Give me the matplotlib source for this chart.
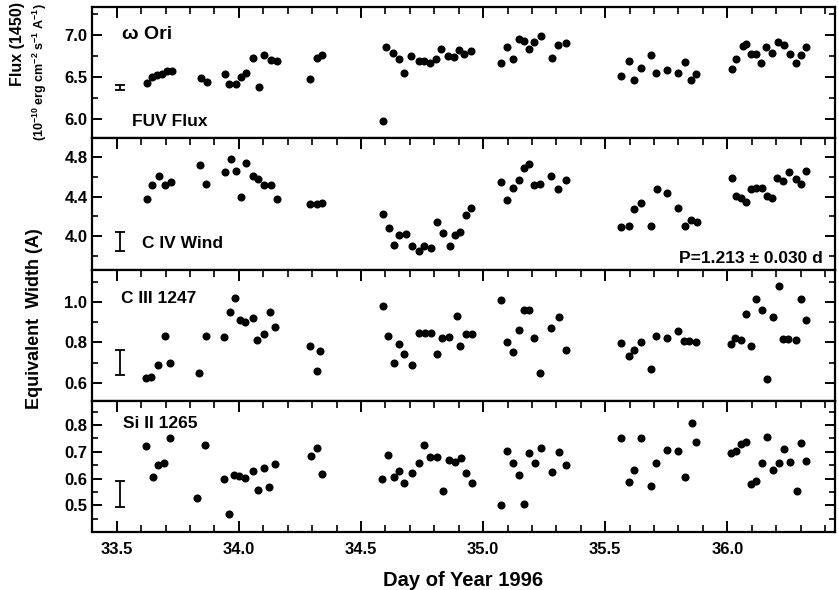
import numpy as np
import matplotlib
matplotlib.use('Agg')
import matplotlib.pyplot as plt
from matplotlib.ticker import MultipleLocator, FixedLocator

plt.rcParams['font.family'] = ['Liberation Sans', 'DejaVu Sans']
plt.rcParams['font.weight'] = 'bold'
plt.rcParams['mathtext.fontset'] = 'custom'
plt.rcParams['mathtext.rm'] = 'Liberation Sans:bold'
plt.rcParams['mathtext.it'] = 'Liberation Sans:bold'
plt.rcParams['mathtext.bf'] = 'Liberation Sans:bold'
plt.rcParams['mathtext.default'] = 'regular'

# --- data ---
days_fuv = [33.623, 33.643, 33.664, 33.684, 33.705, 33.728,
            33.844, 33.869, 33.944, 33.960, 33.988, 34.008, 34.030, 34.059, 34.083, 34.104, 34.131, 34.156,
            34.292, 34.322, 34.339,
            34.590, 34.604, 34.630, 34.657, 34.677, 34.705, 34.739, 34.759, 34.784, 34.807, 34.828, 34.855,
            34.882, 34.902, 34.923, 34.950,
            35.074, 35.097, 35.122, 35.146, 35.169, 35.190, 35.210, 35.238, 35.283, 35.306, 35.340,
            35.566, 35.597, 35.618, 35.645, 35.686, 35.709, 35.754, 35.800, 35.825, 35.852, 35.873,
            36.019, 36.037, 36.064, 36.078, 36.098, 36.119, 36.139, 36.160, 36.184, 36.208, 36.232, 36.255,
            36.283, 36.303, 36.324]
flux = [6.43, 6.50, 6.52, 6.54, 6.57, 6.57,
        6.49, 6.44, 6.54, 6.42, 6.42, 6.50, 6.55, 6.72, 6.38, 6.76, 6.70, 6.69,
        6.48, 6.73, 6.76,
        5.98, 6.85, 6.79, 6.71, 6.55, 6.75, 6.69, 6.69, 6.67, 6.71, 6.83, 6.75, 6.74, 6.82, 6.77, 6.81,
        6.67, 6.85, 6.71, 6.95, 6.93, 6.83, 6.92, 6.99, 6.73, 6.88, 6.90,
        6.51, 6.69, 6.46, 6.61, 6.76, 6.55, 6.58, 6.55, 6.68, 6.46, 6.54,
        6.60, 6.71, 6.87, 6.89, 6.77, 6.77, 6.67, 6.85, 6.79, 6.91, 6.88, 6.77, 6.67, 6.76, 6.85]

days_civ = [33.623, 33.646, 33.673, 33.697, 33.721,
            33.841, 33.867, 33.944, 33.967, 33.988, 34.008, 34.029, 34.056, 34.077, 34.102, 34.131, 34.156,
            34.292, 34.322, 34.342,
            34.589, 34.613, 34.636, 34.657, 34.684, 34.708, 34.739, 34.759, 34.787, 34.811, 34.834, 34.866,
            34.886, 34.907, 34.930, 34.952,
            35.074, 35.097, 35.122, 35.146, 35.167, 35.190, 35.210, 35.235, 35.279, 35.306, 35.340,
            35.566, 35.596, 35.618, 35.645, 35.686, 35.713, 35.754, 35.800, 35.825, 35.850, 35.877,
            36.019, 36.037, 36.054, 36.078, 36.098, 36.119, 36.142, 36.164, 36.184, 36.205, 36.228, 36.252,
            36.283, 36.300, 36.324]
civ = [4.38, 4.52, 4.61, 4.52, 4.55,
       4.72, 4.53, 4.65, 4.78, 4.66, 4.40, 4.74, 4.61, 4.58, 4.52, 4.52, 4.38,
       4.32, 4.32, 4.33,
       4.22, 4.08, 3.91, 4.01, 4.02, 3.90, 3.85, 3.90, 3.88, 4.14, 4.03, 3.90, 4.01, 4.04, 4.21, 4.28,
       4.55, 4.37, 4.49, 4.57, 4.69, 4.73, 4.52, 4.53, 4.61, 4.48, 4.57,
       4.09, 4.10, 4.27, 4.33, 4.10, 4.48, 4.44, 4.28, 4.10, 4.16, 4.14,
       4.59, 4.41, 4.39, 4.35, 4.48, 4.49, 4.49, 4.41, 4.39, 4.59, 4.56, 4.65, 4.58, 4.53, 4.66]

days_ciii = [33.619, 33.642, 33.671, 33.697, 33.719,
             33.835, 33.865, 33.940, 33.964, 33.985, 34.004, 34.026, 34.059, 34.074, 34.101, 34.128, 34.149,
             34.292, 34.322, 34.333,
             34.589, 34.609, 34.634, 34.657, 34.678, 34.708, 34.739, 34.764, 34.787, 34.811, 34.831, 34.862,
             34.892, 34.907, 34.930, 34.955,
             35.074, 35.097, 35.122, 35.146, 35.169, 35.190, 35.210, 35.235, 35.279, 35.309, 35.340,
             35.566, 35.596, 35.618, 35.645, 35.686, 35.709, 35.754, 35.800, 35.822, 35.845, 35.873,
             36.016, 36.033, 36.054, 36.078, 36.095, 36.119, 36.142, 36.164, 36.187, 36.211, 36.228, 36.248,
             36.280, 36.303, 36.324]
ciii = [0.625, 0.63, 0.69, 0.83, 0.70,
        0.65, 0.83, 0.825, 0.95, 1.02, 0.91, 0.90, 0.92, 0.81, 0.84, 0.95, 0.875,
        0.78, 0.66, 0.755,
        0.98, 0.83, 0.70, 0.79, 0.74, 0.69, 0.845, 0.845, 0.845, 0.74, 0.82, 0.825, 0.93, 0.78, 0.84, 0.84,
        1.01, 0.80, 0.75, 0.86, 0.96, 0.96, 0.82, 0.65, 0.87, 0.925, 0.76,
        0.795, 0.73, 0.76, 0.80, 0.67, 0.83, 0.82, 0.855, 0.805, 0.805, 0.80,
        0.79, 0.82, 0.81, 0.94, 0.78, 1.015, 0.96, 0.62, 0.925, 1.08, 0.815, 0.815, 0.81, 1.015, 0.91]

days_si = [33.619, 33.648, 33.670, 33.694, 33.720,
           33.830, 33.862, 33.940, 33.959, 33.981, 34.001, 34.025, 34.056, 34.077, 34.101, 34.124, 34.149,
           34.295, 34.322, 34.339,
           34.586, 34.609, 34.634, 34.657, 34.677, 34.708, 34.739, 34.759, 34.784, 34.811, 34.834, 34.862,
           34.886, 34.910, 34.930, 34.955,
           35.075, 35.098, 35.122, 35.146, 35.167, 35.190, 35.214, 35.238, 35.283, 35.310, 35.340,
           35.566, 35.597, 35.618, 35.645, 35.686, 35.709, 35.754, 35.800, 35.825, 35.855, 35.873,
           36.016, 36.037, 36.054, 36.078, 36.098, 36.119, 36.142, 36.164, 36.187, 36.211, 36.233, 36.256,
           36.287, 36.303, 36.324]
si = [0.72, 0.605, 0.65, 0.66, 0.75,
      0.526, 0.726, 0.60, 0.466, 0.614, 0.608, 0.604, 0.63, 0.558, 0.64, 0.567, 0.654,
      0.686, 0.716, 0.618,
      0.60, 0.689, 0.605, 0.629, 0.583, 0.62, 0.658, 0.724, 0.679, 0.679, 0.552, 0.67, 0.662, 0.676, 0.62, 0.585,
      0.50, 0.704, 0.658, 0.614, 0.505, 0.697, 0.658, 0.716, 0.624, 0.701, 0.649,
      0.751, 0.586, 0.632, 0.751, 0.574, 0.66, 0.707, 0.704, 0.607, 0.807, 0.736,
      0.695, 0.704, 0.73, 0.735, 0.579, 0.591, 0.658, 0.755, 0.632, 0.658, 0.711, 0.661, 0.554, 0.733, 0.666]

# typical error bars shown at the left of each panel
err_day = 33.515
err_mid = [6.37, 3.945, 0.70, 0.5425]
err_half = [0.03, 0.095, 0.062, 0.0475]

panel_labels = ['FUV Flux', 'C IV Wind', 'C III 1247', 'Si II 1265']
ylims = [(5.77, 7.33), (3.66, 4.99), (0.51, 1.16), (0.40, 0.89)]
major_ticks = [[6.0, 6.5, 7.0], [4.0, 4.4, 4.8], [0.6, 0.8, 1.0], [0.5, 0.6, 0.7, 0.8]]
minor_steps = [0.25, 0.2, 0.1, 0.05]

series = [(days_fuv, flux), (days_civ, civ), (days_ciii, ciii), (days_si, si)]

fig, axes = plt.subplots(4, 1, sharex=True, figsize=(8.39, 5.90), dpi=100)
plt.subplots_adjust(left=0.11, right=0.995, top=0.988, bottom=0.098, hspace=0)

for i, ax in enumerate(axes):
    d, v = series[i]
    ax.plot(d, v, 'o', color='black', markersize=5.8, markeredgewidth=0)
    ax.errorbar([err_day], [err_mid[i]], yerr=[err_half[i]], fmt='none', ecolor='black',
                elinewidth=1.3, capsize=3.5, capthick=1.3)
    ax.set_ylim(ylims[i])
    ax.set_xlim(33.40, 36.44)
    ax.yaxis.set_major_locator(FixedLocator(major_ticks[i]))
    ax.yaxis.set_minor_locator(MultipleLocator(minor_steps[i]))
    ax.yaxis.set_major_formatter(plt.FormatStrFormatter('%.1f'))
    ax.xaxis.set_major_locator(MultipleLocator(0.5))
    ax.xaxis.set_minor_locator(MultipleLocator(0.1))
    ax.tick_params(axis='y', which='both', direction='in', left=True, right=True, labelsize=12)
    ax.tick_params(axis='y', which='major', length=7, width=1.4)
    ax.tick_params(axis='y', which='minor', length=4, width=1.2)
    last = (i == 3)
    ax.tick_params(axis='x', which='both', direction='in', top=True, bottom=last,
                   labelbottom=last, labelsize=12, pad=7)
    ax.tick_params(axis='x', which='major', length=8, width=1.4)
    ax.tick_params(axis='x', which='minor', length=5, width=1.2)
    for s in ax.spines.values():
        s.set_linewidth(1.6)

axes[0].text(0.040, 0.79, '\u03c9 Ori', transform=axes[0].transAxes, fontsize=14,
             fontweight='bold', va='center', ha='left')
axes[0].text(0.053, 0.13, panel_labels[0], transform=axes[0].transAxes, fontsize=12.5,
             fontweight='bold', va='center', ha='left')
axes[1].text(0.067, 0.20, panel_labels[1], transform=axes[1].transAxes, fontsize=12.5,
             fontweight='bold', va='center', ha='left')
axes[1].text(0.984, 0.085, 'P=1.213 \u00b1 0.030 d', transform=axes[1].transAxes, fontsize=12.5,
             fontweight='bold', va='center', ha='right')
axes[2].text(0.038, 0.78, panel_labels[2], transform=axes[2].transAxes, fontsize=12.5,
             fontweight='bold', va='center', ha='left')
axes[3].text(0.042, 0.83, panel_labels[3], transform=axes[3].transAxes, fontsize=12.5,
             fontweight='bold', va='center', ha='left')

axes[3].set_xlabel('Day of Year 1996', fontsize=14.5, fontweight='bold', labelpad=10)

fig.text(0.021, 0.926, 'Flux (1450)', rotation=90, fontsize=11.5, fontweight='bold',
         ha='center', va='center')
fig.text(0.048, 0.878, r'(10$^{-10}$ erg cm$^{-2}$ s$^{-1}$ A$^{-1}$)', rotation=90, fontsize=9,
         fontweight='bold', ha='center', va='center')
fig.text(0.041, 0.46, 'Equivalent  Width (A)', rotation=90, fontsize=13, fontweight='bold',
         ha='center', va='center')

fig.savefig('out.png', dpi=100)
